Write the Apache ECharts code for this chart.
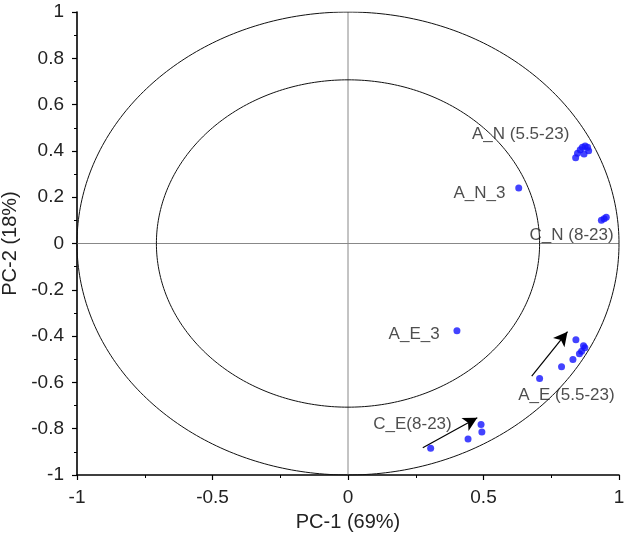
<!DOCTYPE html>
<html><head><meta charset="utf-8">
<script src="https://cdn.jsdelivr.net/npm/echarts@6/dist/echarts.min.js"></script>
<style>html,body{margin:0;padding:0;background:#fff}#c{width:625px;height:538px}</style>
</head><body><div id="c"></div><script>
// ---- data ----
const A_N = [[0.84,0.37],[0.847,0.39],[0.857,0.405],[0.865,0.416],[0.875,0.421],[0.884,0.416],[0.888,0.401],[0.871,0.387]];
const A_N_3 = [[0.63,0.24]];
const C_N = [[0.935,0.10],[0.945,0.107],[0.953,0.113]];
const A_E_3 = [[0.402,-0.377]];
const A_E = [[0.841,-0.416],[0.869,-0.442],[0.874,-0.45],[0.862,-0.465],[0.854,-0.476],[0.83,-0.501],[0.788,-0.532],[0.707,-0.583]];
const C_E = [[0.491,-0.782],[0.494,-0.814],[0.443,-0.845],[0.305,-0.884]];
const arrows = [[[0.678,-0.573],[0.81,-0.381]],[[0.276,-0.882],[0.477,-0.753]]];
const labels = [
  {name:'A_N (5.5-23)', at:[0.637,0.472]},
  {name:'A_N_3', at:[0.485,0.216]},
  {name:'C_N (8-23)', at:[0.825,0.035]},
  {name:'A_E_3', at:[0.244,-0.394]},
  {name:'A_E (5.5-23)', at:[0.806,-0.654]},
  {name:'C_E(8-23)', at:[0.238,-0.779]}
];
const radii = [1, 0.707];
const xTitle = 'PC-1 (69%)', yTitle = 'PC-2 (18%)';

function circle(r){ const p=[]; for(let a=0;a<=360;a+=1){const t=a*Math.PI/180; p.push([r*Math.cos(t), r*Math.sin(t)]);} return p; }

const FONT = 'Liberation Sans, Arial, sans-serif';
const chart = echarts.init(document.getElementById('c'), null, {renderer:'canvas'});
const dot = {type:'scatter', symbolSize:7, itemStyle:{color:'#1414ff'}, z:5};
const axisCommon = {
  min:-1, max:1,
  axisLine:{onZero:false, lineStyle:{color:'#000', width:1.6}},
  axisTick:{show:true, length:5, lineStyle:{color:'#000', width:1.2}},
  minorTick:{show:true, splitNumber:2, length:3, lineStyle:{color:'#000', width:1}},
  splitLine:{show:false},
  axisLabel:{color:'#222', fontSize:19, fontFamily:FONT},
  nameLocation:'middle',
  nameTextStyle:{color:'#222', fontSize:20, fontFamily:FONT}
};
chart.setOption({
  animation:false,
  grid:{left:77, right:6, top:12, bottom:63, containLabel:false, outerBoundsMode:'none'},
  xAxis:Object.assign({}, axisCommon, {type:'value', interval:0.5, name:xTitle, nameGap:37,
    axisLabel:Object.assign({}, axisCommon.axisLabel, {margin:13, formatter:v=>String(v)})}),
  yAxis:Object.assign({}, axisCommon, {type:'value', interval:0.2, name:yTitle, nameGap:55,
    axisLabel:Object.assign({}, axisCommon.axisLabel, {margin:13, formatter:v=>String(Math.round(v*10)/10)})}),
  series:[
    ...radii.map(r=>({type:'line', data:circle(r), showSymbol:false, symbol:'none', lineStyle:{color:'#111', width:1}, z:2, silent:true})),
    {type:'line', data:[[-1,0],[1,0]], symbol:'none', lineStyle:{color:'#888', width:1}, z:1},
    {type:'line', data:[[0,-1],[0,1]], symbol:'none', lineStyle:{color:'#888', width:1}, z:1},
    Object.assign({data:A_N}, dot),
    Object.assign({data:A_N_3}, dot),
    Object.assign({data:C_N}, dot),
    Object.assign({data:A_E_3}, dot),
    Object.assign({data:A_E}, dot),
    Object.assign({data:C_E}, dot),
    {type:'scatter', data:[], markLine:{silent:true, symbol:['none','arrow'], symbolSize:[11,14], animation:false,
      label:{show:false}, lineStyle:{color:'#000', width:1.2, type:'solid'},
      data:arrows.map(a=>[{coord:a[0]},{coord:a[1]}])}},
    {type:'scatter', symbolSize:0, z:6, data:labels.map(l=>({name:l.name, value:l.at})),
      label:{show:true, position:'inside', formatter:p=>p.name, color:'#222', fontSize:17, fontFamily:FONT}}
  ]
});
</script></body></html>
